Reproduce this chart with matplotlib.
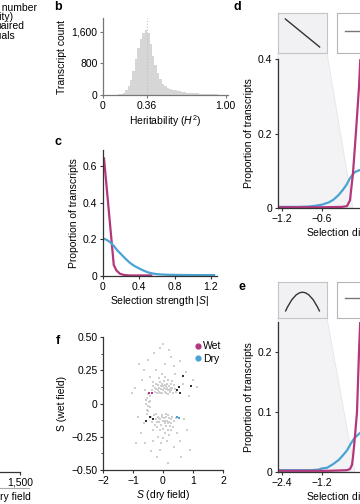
import matplotlib
matplotlib.use('Agg')
import matplotlib.pyplot as plt
from matplotlib.patches import Polygon, PathPatch
from matplotlib.path import Path
from matplotlib.lines import Line2D

plt.rcParams['font.family'] = ['Liberation Sans', 'DejaVu Sans']
plt.rcParams['font.size'] = 7.5
plt.rcParams['mathtext.fontset'] = 'custom'
plt.rcParams['mathtext.it'] = 'Liberation Sans:italic'
plt.rcParams['mathtext.rm'] = 'Liberation Sans'

PINK = '#b4367c'
BLUE = '#4ba3d3'
GRAY = '#d6d6d6'

# b: heritability histogram (bin starts, width 0.02)
herit_bins = [0.10, 0.12, 0.14, 0.16, 0.18, 0.20, 0.22, 0.24, 0.26, 0.28,
              0.30, 0.32, 0.34, 0.36, 0.38, 0.40, 0.42, 0.44, 0.46, 0.48,
              0.50, 0.52, 0.54, 0.56, 0.58, 0.60, 0.62, 0.64, 0.66, 0.68,
              0.70, 0.72, 0.74, 0.76, 0.78, 0.80, 0.82, 0.84, 0.86, 0.88,
              0.90, 0.92, 0.94, 0.96, 0.98]
herit_counts = [5, 15, 30, 60, 120, 220, 380, 620, 900, 1180,
                1420, 1580, 1650, 1560, 1300, 1000, 760, 560, 400, 290,
                220, 180, 150, 130, 115, 100, 90, 80, 70, 62,
                55, 50, 45, 40, 36, 32, 28, 25, 22, 20,
                17, 15, 12, 10, 8]

# c: selection strength |S|
c_wet_x = [0.01, 0.12, 0.15, 0.19, 0.24, 0.30, 0.40, 0.55]
c_wet_y = [0.65, 0.06, 0.03, 0.012, 0.005, 0.003, 0.003, 0.003]
c_dry_x = [0.01, 0.05, 0.08, 0.12, 0.16, 0.20, 0.25, 0.30, 0.35, 0.40, 0.45,
           0.50, 0.55, 0.60, 0.70, 0.80, 1.00, 1.25]
c_dry_y = [0.205, 0.195, 0.185, 0.165, 0.14, 0.12, 0.095, 0.072, 0.055, 0.042,
           0.03, 0.02, 0.014, 0.01, 0.007, 0.006, 0.005, 0.005]

# d: linear selection differential
d_dry_x = [-1.26, -1.1, -0.95, -0.8, -0.7, -0.6, -0.5, -0.43, -0.35, -0.29,
           -0.23, -0.18, -0.13, -0.1, -0.06, -0.03, 0.0]
d_dry_y = [0.003, 0.003, 0.003, 0.004, 0.006, 0.009, 0.015, 0.022, 0.035, 0.048,
           0.063, 0.08, 0.092, 0.097, 0.1, 0.102, 0.103]
d_wet_x = [-1.26, -0.6, -0.3, -0.225, -0.18, -0.135, -0.1, -0.075, -0.045, -0.02]
d_wet_y = [0.002, 0.002, 0.003, 0.005, 0.021, 0.094, 0.18, 0.245, 0.325, 0.42]

# e: quadratic selection differential
e_dry_x = [-2.52, -2.0, -1.5, -1.3, -1.2, -1.05, -0.87, -0.7, -0.57, -0.45,
           -0.36, -0.27, -0.2, -0.12, -0.06, 0.0]
e_dry_y = [0.003, 0.003, 0.003, 0.004, 0.006, 0.007, 0.013, 0.02, 0.028, 0.036,
           0.045, 0.053, 0.058, 0.062, 0.065, 0.067]
e_wet_x = [-2.52, -1.0, -0.45, -0.36, -0.3, -0.27, -0.21, -0.15, -0.09, -0.04]
e_wet_y = [0.002, 0.002, 0.003, 0.005, 0.012, 0.025, 0.06, 0.1, 0.2, 0.27]

# f: S (dry) vs S (wet), all transcripts
f_dry = [-0.38, -0.32, -0.28, -0.25, -0.22, -0.2, -0.18, -0.15, -0.13, -0.1,
         -0.08, -0.06, -0.04, -0.02, 0.0, 0.02, 0.04, 0.05, 0.07, 0.09,
         0.11, 0.12, 0.14, 0.16, 0.18, 0.2, 0.22, 0.24, 0.26, 0.28,
         0.31, 0.34, 0.37, 0.4, 0.43, -0.35, -0.12, 0.08, 0.3, -0.05,
         0.15, -0.27, 0.01, 0.19, -0.16, 0.1, -0.09, 0.27,
         -0.4, -0.36, -0.3, -0.27, -0.23, -0.2, -0.17, -0.14, -0.11, -0.09,
         -0.06, -0.04, -0.01, 0.01, 0.03, 0.05, 0.07, 0.09, 0.11, 0.13,
         0.15, 0.17, 0.19, 0.21, 0.23, 0.25, 0.28, 0.31, 0.34, 0.38,
         0.42, -0.33, -0.18, 0.0, 0.12, -0.08, 0.2, -0.25, 0.06, -0.12,
         0.16, -0.02, 0.26, -0.21, 0.1,
         -0.55, -0.5, -0.47, -0.52, -0.45, -0.58, -0.49, -0.44, -0.56, -0.5,
         -0.42, -0.53,
         -0.8, -0.65, -0.5, -0.3, -0.1, 0.05, 0.2, 0.35, 0.55, 0.75,
         -0.95, -1.03, -0.7, 0.65, 1.13, 0.85, -0.85, -0.75, -0.6, -0.4,
         -0.2, 0.15, 0.35, 0.55, 0.8, 0.9, -0.9, 0.7, -0.25, 0.4,
         -0.45, 0.6, -0.1, 0.45, -0.65, 0.0, 1.0, -0.35, 0.25, -0.6]
f_wet = [0.1, 0.13, 0.09, 0.15, 0.11, 0.08, 0.14, 0.12, 0.09, 0.16,
         0.11, 0.13, 0.08, 0.15, 0.1, 0.12, 0.17, 0.09, 0.14, 0.11,
         0.08, 0.15, 0.12, 0.1, 0.18, 0.13, 0.09, 0.11, 0.15, 0.1,
         0.12, 0.08, 0.14, 0.11, 0.09, 0.16, 0.19, 0.2, 0.17, 0.22,
         0.07, 0.12, 0.13, 0.1, 0.1, 0.13, 0.08, 0.12,
         -0.1, -0.14, -0.09, -0.16, -0.12, -0.18, -0.1, -0.14, -0.2, -0.12,
         -0.16, -0.09, -0.13, -0.19, -0.11, -0.15, -0.22, -0.1, -0.17, -0.13,
         -0.09, -0.2, -0.14, -0.11, -0.17, -0.12, -0.15, -0.1, -0.18, -0.13,
         -0.11, -0.2, -0.25, -0.26, -0.28, -0.3, -0.24, -0.08, -0.13, -0.11,
         -0.15, -0.1, -0.2, -0.14, -0.08,
         -0.05, -0.02, 0.01, 0.04, 0.06, 0.0, -0.06, -0.03, 0.03, 0.07,
         0.02, -0.08,
         0.3, 0.25, 0.33, 0.38, 0.42, 0.3, 0.4, 0.28, 0.32, 0.24,
         0.12, 0.08, 0.18, 0.15, 0.125, 0.06, -0.1, -0.22, -0.3, -0.36,
         -0.4, -0.45, -0.33, -0.28, -0.2, -0.35, -0.3, -0.12, 0.25, 0.22,
         0.2, -0.4, -0.35, -0.22, -0.15, 0.45, 0.18, -0.28, 0.35, 0.1]
f_both_dry = [0.67, 0.93, 0.53, 0.57, 0.48, -0.43, -0.57, -0.33]
f_both_wet = [0.21, 0.13, 0.125, 0.08, 0.1, -0.1, -0.13, -0.12]
f_wetsel_dry = [-0.47, -0.37]
f_wetsel_wet = [0.08, 0.08]
f_drysel_dry = [0.47, 0.53]
f_drysel_wet = [-0.1, -0.11]

W, H = 360, 504
fig = plt.figure(figsize=(3.6, 5.04), dpi=100)


def box(x0, y0, x1, y1):
    return [x0 / W, 1 - y1 / H, (x1 - x0) / W, (y1 - y0) / H]


def fx(x):
    return x / W


def fy(y):
    return 1 - y / H


def style(ax, color='#333333'):
    for s in ['top', 'right']:
        ax.spines[s].set_visible(False)
    for s in ['left', 'bottom']:
        ax.spines[s].set_color(color)
        ax.spines[s].set_linewidth(0.9)
    ax.tick_params(length=2.5, width=0.8, color=color, pad=1.5, labelsize=7.5)


# a (mostly outside the crop)
ax_a = fig.add_axes(box(-100, 150, 20, 472))
style(ax_a)
ax_a.spines['left'].set_visible(False)
ax_a.set_yticks([])
ax_a.set_xlim(0, 1500)
ax_a.set_xticks([0, 500, 1000, 1500])
ax_a.set_xticklabels(['0', '500', '1,000', '1,500'])
for txt, xr, yy in [('Transcript number', 37, 8), ('(heritability)', 13, 17),
                    ('paired', 24, 26), ('individuals', 15, 36)]:
    fig.text(fx(xr), fy(yy), txt, ha='right', va='center', fontsize=7.5)
fig.text(fx(31), fy(497), 'Transcripts per individual, dry field', ha='right',
         va='center', fontsize=7.5)
fig.add_artist(Line2D([0, fx(29)], [fy(488), fy(488)], color='#aaaaaa', lw=0.8))

# b
ax_b = fig.add_axes(box(103, 18, 228, 95))
style(ax_b, '#777777')
ax_b.bar(herit_bins, herit_counts, width=0.02, align='edge', color=GRAY, linewidth=0)
ax_b.axvline(0.36, color='#c2c2c2', ls=':', lw=0.8, zorder=3)
ax_b.set_xlim(0, 1.02)
ax_b.set_ylim(0, 1950)
ax_b.set_xticks([0, 0.36, 1.0])
ax_b.set_xticklabels(['0', '0.36', '1.00'])
ax_b.set_yticks([0, 800, 1600])
ax_b.set_yticklabels(['0', '800', '1,600'])
ax_b.set_xlabel('Heritability ($H^2$)', labelpad=2)
ax_b.set_ylabel('Transcript count', labelpad=3)

# c
ax_c = fig.add_axes(box(103, 150, 217, 276))
style(ax_c)
ax_c.plot(c_wet_x, c_wet_y, color=PINK, lw=1.6, solid_capstyle='butt')
ax_c.plot(c_dry_x, c_dry_y, color=BLUE, lw=1.6, solid_capstyle='butt')
ax_c.set_xlim(0, 1.27)
ax_c.set_ylim(0, 0.69)
ax_c.set_xticks([0, 0.4, 0.8, 1.2])
ax_c.set_xticklabels(['0', '0.4', '0.8', '1.2'])
ax_c.set_yticks([0, 0.2, 0.4, 0.6])
ax_c.set_yticklabels(['0', '0.2', '0.4', '0.6'])
ax_c.set_xlabel('Selection strength |$S$|', labelpad=2)
ax_c.set_ylabel('Proportion of transcripts', labelpad=3)

# f
ax_f = fig.add_axes(box(103, 337, 223, 470))
style(ax_f)
ax_f.scatter(f_dry, f_wet, s=2.5, marker='s', color='#cfcfcf', linewidths=0)
ax_f.scatter(f_both_dry, f_both_wet, s=3, marker='s', color='#333333', linewidths=0)
ax_f.scatter(f_wetsel_dry, f_wetsel_wet, s=3, marker='s', color=PINK, linewidths=0)
ax_f.scatter(f_drysel_dry, f_drysel_wet, s=3, marker='s', color=BLUE, linewidths=0)
ax_f.set_xlim(-2, 2)
ax_f.set_ylim(-0.5, 0.5)
ax_f.set_xticks([-2, -1, 0, 1, 2])
ax_f.set_xticklabels(['\u22122', '\u22121', '0', '1', '2'])
ax_f.set_yticks([-0.5, -0.25, 0, 0.25, 0.5])
ax_f.set_yticklabels(['\u22120.50', '\u22120.25', '0', '0.25', '0.50'])
ax_f.set_yticks([-0.375, -0.125, 0.125, 0.375], minor=True)
ax_f.tick_params(which='minor', length=1.5, width=0.6, color='#333333')
ax_f.set_xlabel('$S$ (dry field)', labelpad=2)
ax_f.set_ylabel('S (wet field)', labelpad=3)
hw = Line2D([], [], ls='', marker='o', ms=3.5, color=PINK, label='Wet')
hd = Line2D([], [], ls='', marker='o', ms=3.5, color=BLUE, label='Dry')
ax_f.legend(handles=[hw, hd], loc='upper right', frameon=False, borderaxespad=0,
            handletextpad=0.1, handlelength=0.8, labelspacing=0.25,
            bbox_to_anchor=(1.02, 1.0), fontsize=7.5)


def inset_panel(top, bottom, ax_bottom, shade_x, kind):
    # shaded funnel from first icon box down to the axis
    poly = Polygon([(fx(278), fy(bottom)), (fx(327), fy(bottom)),
                    (fx(shade_x), fy(ax_bottom)), (fx(278), fy(ax_bottom))],
                   closed=True, transform=fig.transFigure, facecolor='#f3f3f6',
                   edgecolor='#e6e6ea', lw=0.6, zorder=0)
    fig.add_artist(poly)
    b1 = fig.add_axes(box(278, top, 327, bottom))
    b2 = fig.add_axes(box(337, top, 400, bottom))
    for b, fc, ec in [(b1, '#f1f1f4', '#c4c4c8'), (b2, 'white', '#b5b5b5')]:
        b.set_facecolor(fc)
        b.set_xticks([])
        b.set_yticks([])
        b.set_xlim(0, 1)
        b.set_ylim(0, 1)
        for s in b.spines.values():
            s.set_color(ec)
            s.set_linewidth(0.8)
    if kind == 'linear':
        b1.plot([0.15, 0.85], [0.85, 0.15], color='#333333', lw=1.0)
    else:
        path = Path([(0.15, 0.18), (0.5, 1.25), (0.85, 0.18)],
                    [Path.MOVETO, Path.CURVE3, Path.CURVE3])
        b1.add_patch(PathPatch(path, fill=False, edgecolor='#333333', lw=1.0))
    b2.plot([0.13, 1.0], [0.55, 0.55], color='#777777', lw=1.0)


# d
inset_panel(13, 53, 208, 353, 'linear')
ax_d = fig.add_axes(box(278, 59, 446, 208))
ax_d.set_facecolor('none')
style(ax_d)
ax_d.plot(d_dry_x, d_dry_y, color=BLUE, lw=1.6)
ax_d.plot(d_wet_x, d_wet_y, color=PINK, lw=1.6)
ax_d.set_xlim(-1.26, 1.26)
ax_d.set_ylim(0, 0.4)
ax_d.set_xticks([-1.2, -0.6, 0, 0.6, 1.2])
ax_d.set_xticklabels(['\u22121.2', '\u22120.6', '0', '0.6', '1.2'])
ax_d.set_yticks([0, 0.2, 0.4])
ax_d.set_yticklabels(['0', '0.2', '0.4'])
ax_d.set_xlabel('Selection differential ($S$)', labelpad=2)
ax_d.set_ylabel('Proportion of transcripts', labelpad=3)

# e
inset_panel(282, 318, 472, 355, 'quadratic')
ax_e = fig.add_axes(box(278, 322, 446, 472))
ax_e.set_facecolor('none')
style(ax_e)
ax_e.plot(e_dry_x, e_dry_y, color=BLUE, lw=1.6)
ax_e.plot(e_wet_x, e_wet_y, color=PINK, lw=1.6)
ax_e.set_xlim(-2.52, 2.52)
ax_e.set_ylim(0, 0.25)
ax_e.set_xticks([-2.4, -1.2, 0, 1.2, 2.4])
ax_e.set_xticklabels(['\u22122.4', '\u22121.2', '0', '1.2', '2.4'])
ax_e.set_yticks([0, 0.1, 0.2])
ax_e.set_yticklabels(['0', '0.1', '0.2'])
ax_e.set_xlabel('Selection differential ($S$)', labelpad=2)
ax_e.set_ylabel('Proportion of transcripts', labelpad=3)

# panel letters
for lab, x, y in [('b', 58, 7), ('c', 58, 142), ('d', 237, 7), ('e', 242, 287),
                  ('f', 58, 341)]:
    fig.text(fx(x), fy(y), lab, fontsize=9, fontweight='bold', ha='center', va='center')

fig.savefig('out.png', dpi=100)
